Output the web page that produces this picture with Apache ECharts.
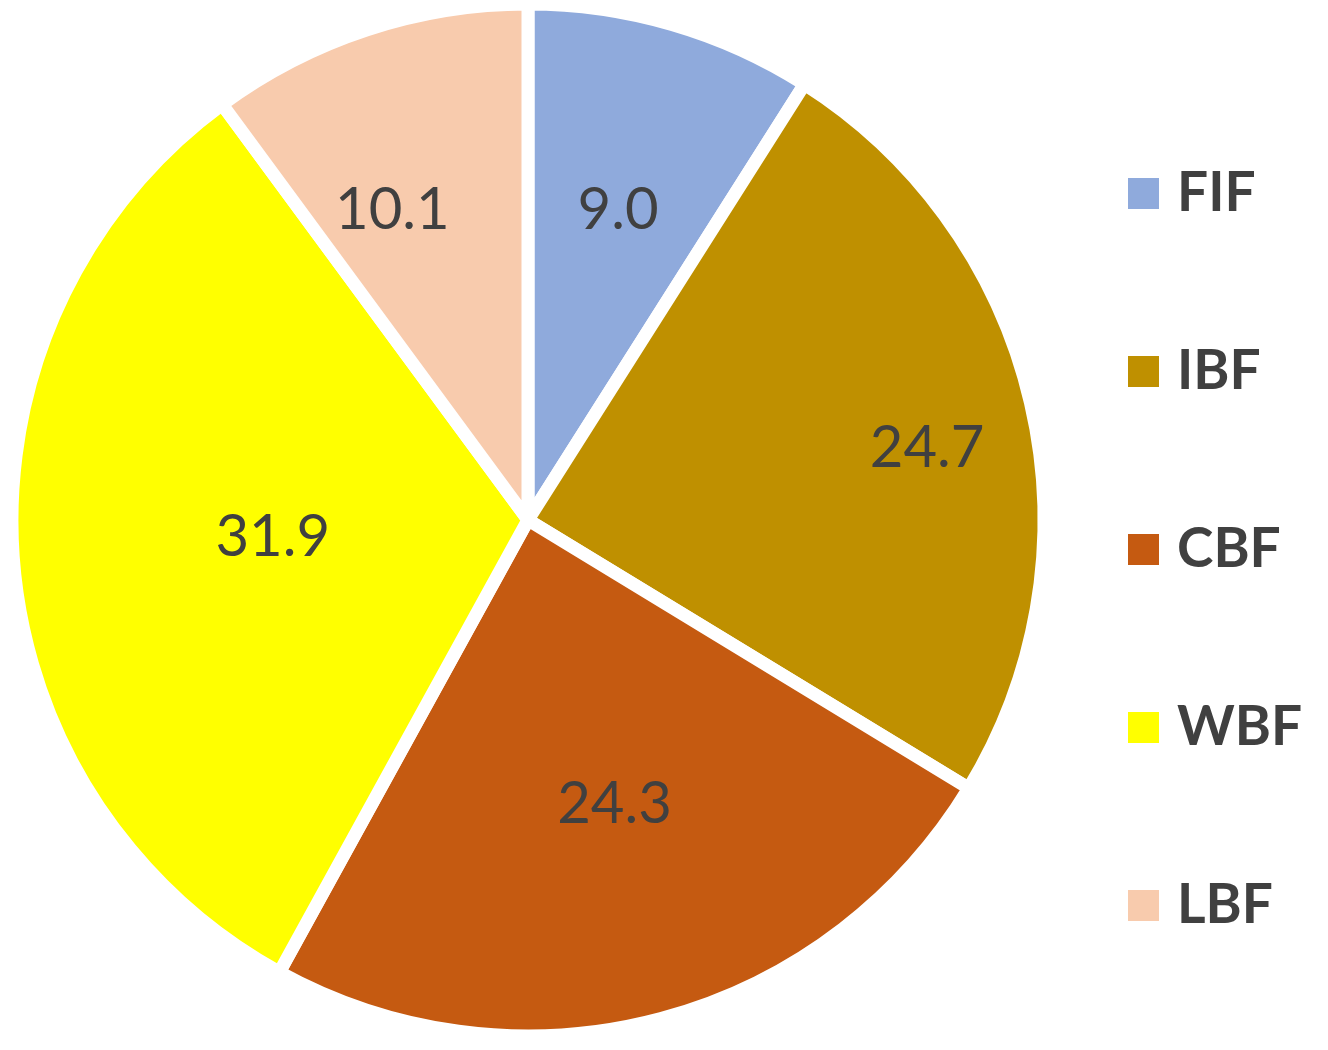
<!DOCTYPE html>
<html lang="en">
<head>
    <meta charset="UTF-8">
    <title>Pie</title>
    <script src="https://cdn.jsdelivr.net/npm/echarts@6/dist/echarts.min.js"></script>
</head>
<body style="margin:0;background:#fff;">
<div id="pieBox" style="width: 1328px;height: 1050px;"></div>
</body>
<script>
  // categories and values (percent)
  var names = ['FIF', 'IBF', 'CBF', 'WBF', 'LBF'];
  var values = [9.0, 24.7, 24.3, 31.9, 10.1];
  var colors = ['#8FAADC', '#BF9000', '#C55A11', '#FFFF00', '#F8CBAD'];

  // where each value label sits: fraction of radius, and a small turn (deg) off the slice middle
  var labelRadius = [0.62, 0.78, 0.57, 0.49, 0.65];
  var labelTurn = [0, -3, 2, 0, 5.5];

  var cx = 528, cy = 520, r = 516;
  var total = values.reduce(function (a, b) { return a + b; }, 0);

  var pieData = [];
  for (var i = 0; i < names.length; i++) {
    pieData.push({name: names[i], value: values[i], itemStyle: {color: colors[i]}});
  }

  var chart = echarts.init(document.getElementById('pieBox'));
  chart.setOption({
    animation: false,
    legend: {
      orient: 'vertical',
      left: 1126,
      top: 166,
      padding: 0,
      itemWidth: 33,
      itemHeight: 33,
      itemGap: 123,
      icon: 'rect',
      textStyle: {
        fontFamily: 'Lato',
        fontWeight: 'bold',
        fontSize: 55,
        color: '#404040',
        lineHeight: 54,
        padding: [0, 0, 0, 12]
      }
    },
    series: [{
      type: 'pie',
      center: [cx, cy],
      radius: [0, r],
      startAngle: 90,
      clockwise: true,
      data: pieData,
      itemStyle: {borderColor: '#fff', borderWidth: 13},
      label: {
        show: true,
        position: 'inside',
        fontFamily: 'Lato',
        fontSize: 58,
        color: '#404040',
        formatter: function (p) { return p.value.toFixed(1); }
      },
      labelLayout: function (p) {
        var idx = p.dataIndex;
        var before = 0;
        for (var j = 0; j < idx; j++) before += values[j];
        var midDeg = 90 - (before + values[idx] / 2) / total * 360;
        var mid = midDeg * Math.PI / 180;
        var want = (midDeg + labelTurn[idx]) * Math.PI / 180;
        var k = labelRadius[idx];
        return {
          dx: k * r * Math.cos(want) - 0.5 * r * Math.cos(mid),
          dy: -k * r * Math.sin(want) + 0.5 * r * Math.sin(mid)
        };
      },
      emphasis: {disabled: true}
    }]
  });
</script>
</html>
